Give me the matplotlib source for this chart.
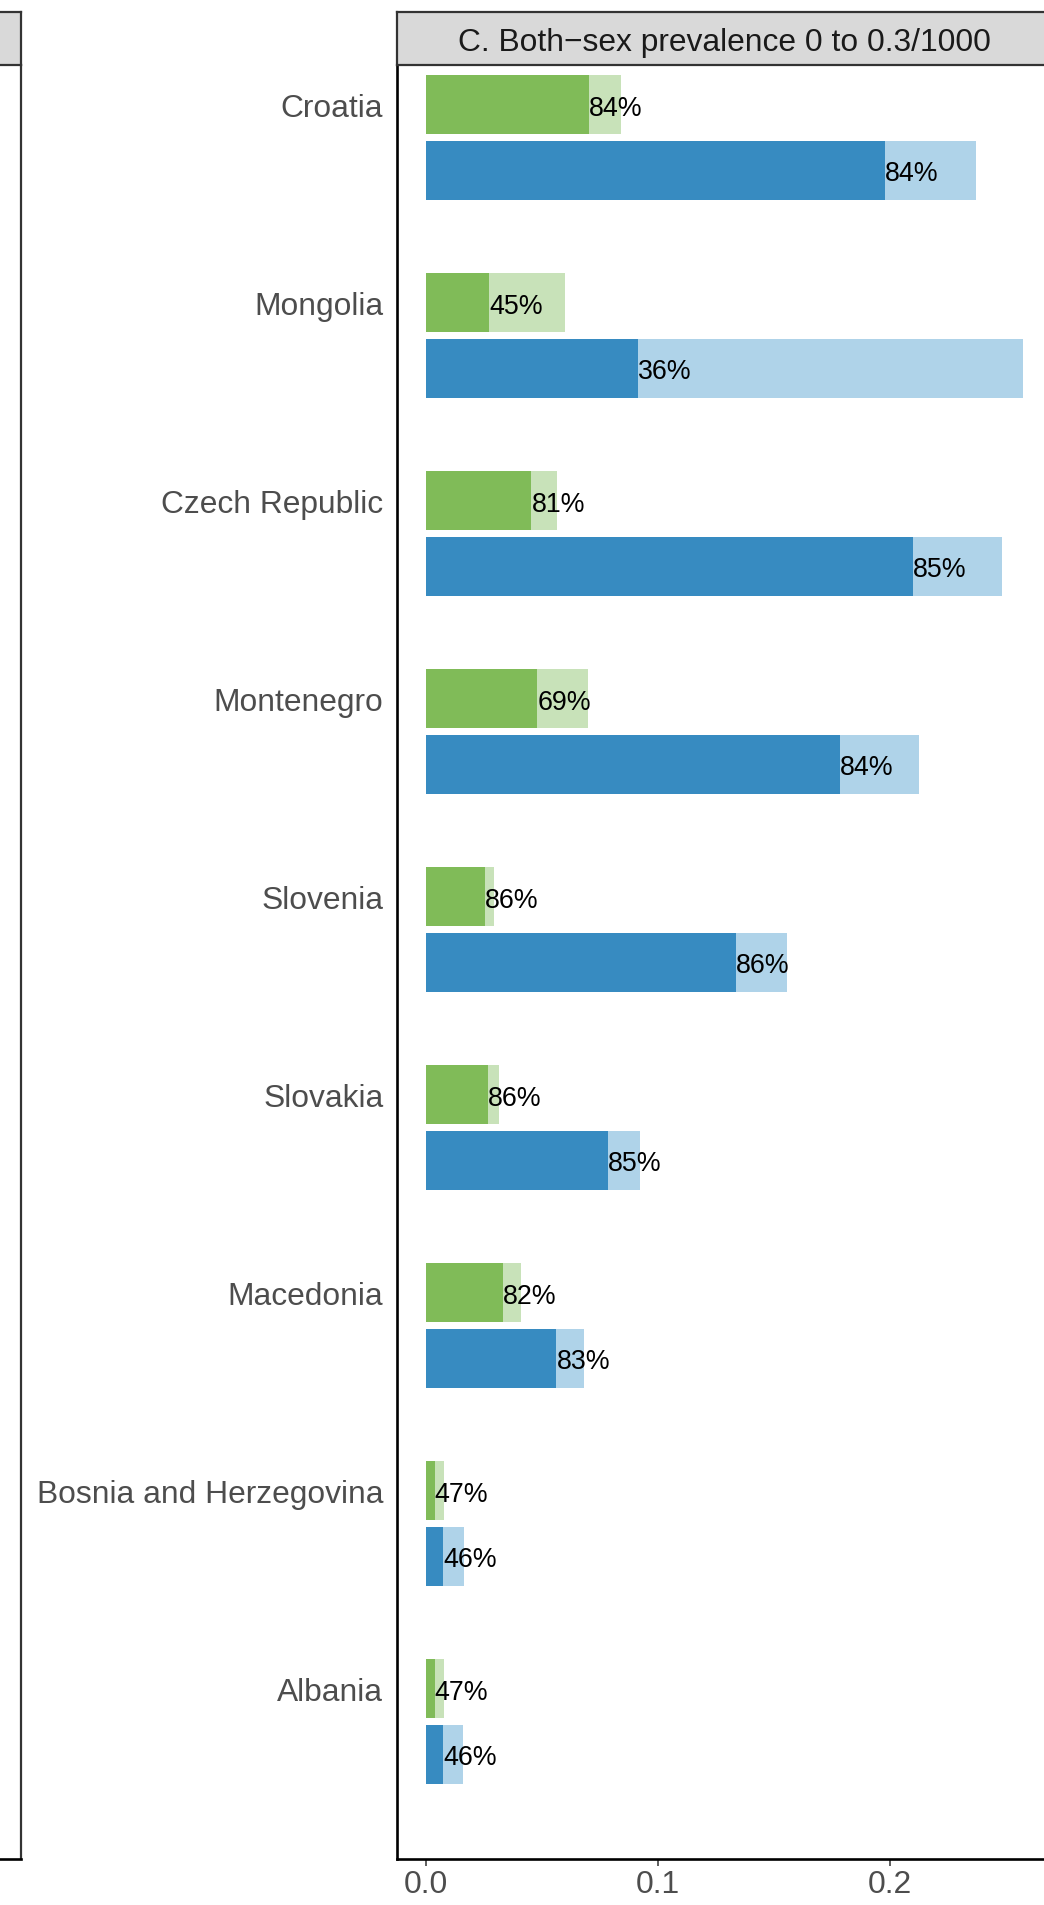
import matplotlib
matplotlib.use("Agg")
import matplotlib.pyplot as plt
import numpy as np

plt.rcParams['font.family'] = ['Liberation Sans', 'DejaVu Sans']

# data (prevalence per 1000)
countries = ["Croatia", "Mongolia", "Czech Republic", "Montenegro", "Slovenia",
             "Slovakia", "Macedonia", "Bosnia and Herzegovina", "Albania"]
green_total = [0.0840, 0.0600, 0.0564, 0.0699, 0.0293, 0.0315, 0.0410, 0.0078, 0.0078]
green_part = [0.0702, 0.0272, 0.0453, 0.0479, 0.0251, 0.0267, 0.0332, 0.0036, 0.0036]
green_pct = ["84%", "45%", "81%", "69%", "86%", "86%", "82%", "47%", "47%"]
blue_total = [0.2370, 0.2573, 0.2483, 0.2125, 0.1556, 0.0922, 0.0678, 0.0164, 0.0159]
blue_part = [0.1978, 0.0913, 0.2099, 0.1784, 0.1336, 0.0784, 0.0561, 0.0074, 0.0074]
blue_pct = ["84%", "36%", "85%", "84%", "86%", "85%", "83%", "46%", "46%"]
x_ticks = [0.0, 0.1, 0.2]
strip_title = "C. Both\u2212sex prevalence 0 to 0.3/1000"

green_dark, green_light = "#80BB58", "#C8E2B9"
blue_dark, blue_light = "#378BC1", "#AFD3E9"
grey20, grey30, grey85 = "#333333", "#4D4D4D", "#D9D9D9"

W, H = 1044, 1906
fig = plt.figure(figsize=(W / 100, H / 100), dpi=100)

def fx(px):
    return px / W

def fy(px):
    return 1 - px / H

panel_top, panel_bot = 66, 1860
strip_top = 13.3

# left (previous facet), mostly cut off
ax0 = fig.add_axes([fx(-400), fy(panel_bot), fx(421), fy(panel_top) - fy(panel_bot)])
ax0.set_xticks([]); ax0.set_yticks([])
for s in ["top", "left"]:
    ax0.spines[s].set_visible(False)
ax0.spines["right"].set_color(grey20)
ax0.spines["right"].set_linewidth(1.6)
ax0.spines["bottom"].set_color("black")
ax0.spines["bottom"].set_linewidth(1.9)
st0 = fig.add_axes([fx(-400), fy(panel_top), fx(421), fy(strip_top) - fy(panel_top)])
st0.set_facecolor(grey85)
st0.set_xticks([]); st0.set_yticks([])
for s in st0.spines.values():
    s.set_color(grey20); s.set_linewidth(1.6)

# main facet
left_px, right_px = 396.5, 1052.8
ax = fig.add_axes([fx(left_px), fy(panel_bot), fx(right_px - left_px), fy(panel_top) - fy(panel_bot)])

y = np.arange(len(countries))
off = 0.333
bh = 0.298
ax.barh(y, green_total, height=bh, color=green_light, linewidth=0)
ax.barh(y, green_part, height=bh, color=green_dark, linewidth=0)
ax.barh(y + off, blue_total, height=bh, color=blue_light, linewidth=0)
ax.barh(y + off, blue_part, height=bh, color=blue_dark, linewidth=0)

for i in range(len(countries)):
    ax.text(green_part[i], y[i], green_pct[i], ha="left", va="center_baseline",
            fontsize=19.3, color="black")
    ax.text(blue_part[i], y[i] + off, blue_pct[i], ha="left", va="center_baseline",
            fontsize=19.3, color="black")

xmax = max(blue_total)
ax.set_xlim(-0.05 * xmax, 1.05 * xmax)
ax.set_ylim(len(countries) - 1 + 0.861, -0.1995)
ax.set_yticks(y)
ax.set_yticklabels(countries)
ax.set_xticks(x_ticks)
ax.set_xticklabels([f"{t:.1f}" for t in x_ticks])
ax.tick_params(axis="y", length=0, pad=9.5, labelsize=22.9, labelcolor=grey30)
ax.tick_params(axis="x", length=5, width=1.1, color=grey20, pad=2,
               labelsize=22.9, labelcolor=grey30)
ax.spines["top"].set_visible(False)
ax.spines["right"].set_color(grey20)
ax.spines["left"].set_color("black")
ax.spines["bottom"].set_color("black")
for s in ["left", "bottom", "right"]:
    ax.spines[s].set_linewidth(1.9)

st = fig.add_axes([fx(left_px), fy(panel_top), fx(right_px - left_px), fy(strip_top) - fy(panel_top)])
st.set_facecolor(grey85)
st.set_xticks([]); st.set_yticks([])
for s in st.spines.values():
    s.set_color(grey20); s.set_linewidth(1.6)
st.text(0.5, 0.5, strip_title, transform=st.transAxes, ha="center", va="center_baseline",
        fontsize=22.9, color="#1A1A1A")

fig.savefig("out.png", dpi=100)
